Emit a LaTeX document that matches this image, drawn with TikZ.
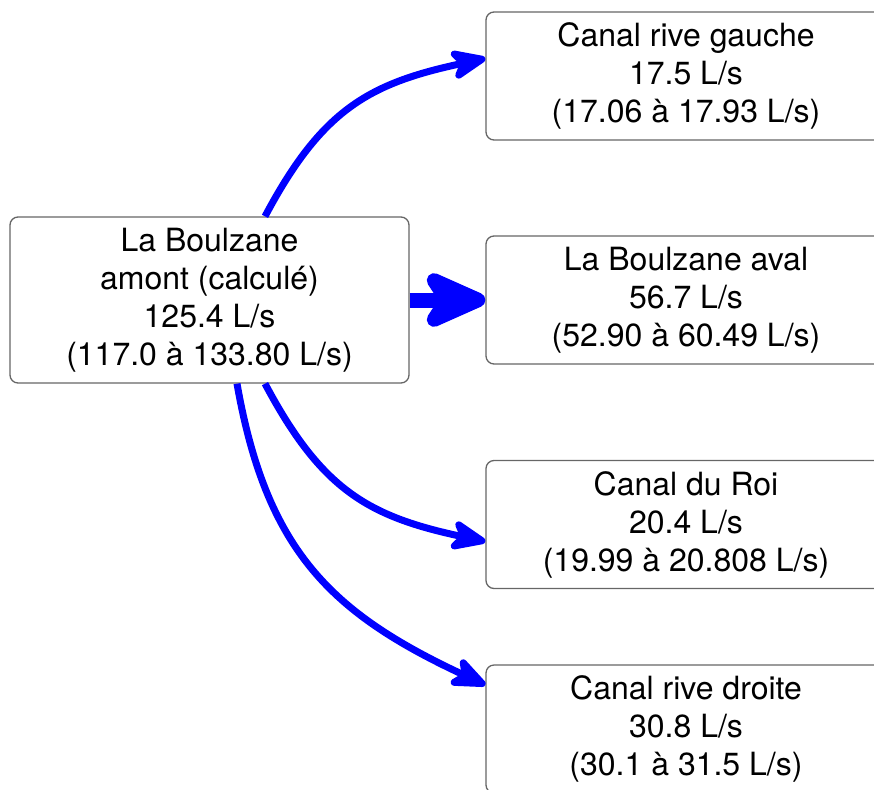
\documentclass[tikz,border=0pt]{standalone}
\usepackage{fontspec}
\setmainfont{TeX Gyre Heros}
\usetikzlibrary{arrows.meta}
\begin{document}
\begin{tikzpicture}[x=1pt,y=-1pt,
  box/.style={draw=black!60, line width=1.3pt, rounded corners=8pt, align=center,
    inner sep=0pt, font=\fontsize{32}{38}\selectfont},
  srcbox/.style={box, minimum width=399pt, minimum height=166pt},
  dstbox/.style={box, minimum width=400pt, minimum height=128pt},
  flow/.style={draw=blue, line width=7pt,
    arrows={-Stealth[length=44pt, width=36pt, inset=12pt, round]}},
  bigflow/.style={draw=blue, line width=15pt,
    arrows={-Stealth[length=80pt, width=70pt, inset=22pt, round]}}
]
\clip (0,0) rectangle (874,789);
\node[srcbox] (L) at (209.5,300) {La Boulzane\\amont (calculé)\\125.4 L/s\\(117.0 à 133.80 L/s)};
\node[dstbox] (A) at (686,76) {Canal rive gauche\\17.5 L/s\\(17.06 à 17.93 L/s)};
\node[dstbox] (B) at (686,300) {La Boulzane aval\\56.7 L/s\\(52.90 à 60.49 L/s)};
\node[dstbox] (C) at (686,524.5) {Canal du Roi\\20.4 L/s\\(19.99 à 20.808 L/s)};
\node[dstbox] (D) at (686,729) {Canal rive droite\\30.8 L/s\\(30.1 à 31.5 L/s)};
\draw[flow] ([xshift=55.5pt]L.north) .. controls +(62:120pt) and +(192:120pt) .. ([yshift=17.5pt]A.west);
\draw[bigflow] (L.east) -- (B.west);
\draw[flow] ([xshift=55.5pt]L.south) .. controls +(-62:120pt) and +(168:120pt) .. ([yshift=-17pt]C.west);
\draw[flow] ([xshift=27.5pt]L.south) .. controls +(-80:170pt) and +(155:170pt) .. ([yshift=44pt]D.west);
\end{tikzpicture}
\end{document}
